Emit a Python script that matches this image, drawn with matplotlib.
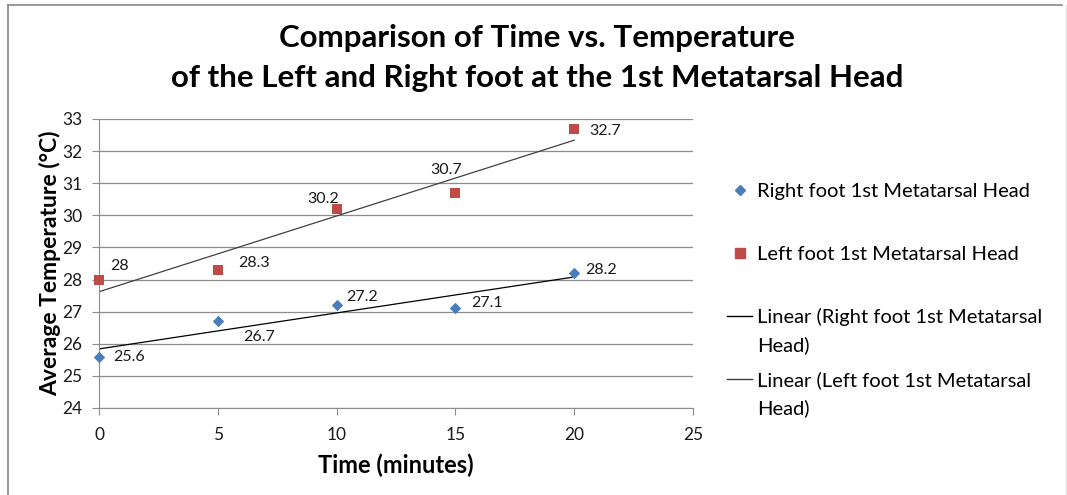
import matplotlib.pyplot as plt
import numpy as np
from matplotlib.lines import Line2D

plt.rcParams['font.family'] = ['Lato', 'DejaVu Sans']

# data
minutes = [0, 5, 10, 15, 20]
right_foot = [25.6, 26.7, 27.2, 27.1, 28.2]
left_foot = [28.0, 28.3, 30.2, 30.7, 32.7]
right_name = 'Right foot 1st Metatarsal Head'
left_name = 'Left foot 1st Metatarsal Head'

# label offsets in points (dx, dy) from each point to the label's left edge
right_offsets = [(10, 0), (18, -11), (7, 6), (11.5, 4), (8, 2)]
left_offsets = [(8, 10), (15, 5), (-21, 7), (-18, 16.5), (11, -2)]

fig = plt.figure(figsize=(10.67, 4.95), dpi=100)
ax = fig.add_axes([0.0928, 0.1758, 0.5567, 0.5838])

blue = '#4a7ebb'
red = '#be4b48'

x = np.array(minutes, dtype=float)
ax.scatter(minutes, right_foot, marker='D', s=34, color=blue, zorder=3, linewidths=0, clip_on=False)
ax.scatter(minutes, left_foot, marker='s', s=58, color=red, zorder=3, linewidths=0, clip_on=False)

# linear trendlines
for ys, c in [(right_foot, 'black'), (left_foot, '#404040')]:
    k, b = np.polyfit(x, ys, 1)
    ax.plot([x.min(), x.max()], [k * x.min() + b, k * x.max() + b], color=c, lw=0.9, zorder=2)

for xs, ys, offs in [(minutes, right_foot, right_offsets), (minutes, left_foot, left_offsets)]:
    for xi, yi, (dx, dy) in zip(xs, ys, offs):
        ax.annotate(f'{yi:g}', (xi, yi), xytext=(dx, dy), textcoords='offset points',
                    fontsize=11.5, va='center', ha='left', color='#1a1a1a')

ax.set_xlim(0, 25)
ax.set_ylim(24, 33)
ax.set_xticks(range(0, 26, 5))
ax.set_yticks(range(24, 34))
ax.grid(axis='y', color='#8c8c8c', lw=0.9)
ax.set_axisbelow(True)
for s in ['top', 'right']:
    ax.spines[s].set_visible(False)
ax.spines['left'].set_color('#8c8c8c')
ax.spines['bottom'].set_color('#8c8c8c')
ax.tick_params(axis='both', colors='#8c8c8c', labelcolor='#1a1a1a', labelsize=12.5, length=5)
ax.tick_params(axis='x', pad=9)
ax.tick_params(axis='y', pad=7)
ax.set_xlabel('Time (minutes)', fontsize=17, fontweight='bold', labelpad=7)
ax.set_ylabel('Average Temperature (°C)', fontsize=16.5, fontweight='bold', labelpad=1)

fig.text(0.503, 0.923, 'Comparison of Time vs. Temperature', ha='center', va='center',
         fontsize=22.5, fontweight='bold')
fig.text(0.503, 0.842, 'of the Left and Right foot at the 1st Metatarsal Head', ha='center',
         va='center', fontsize=22.5, fontweight='bold')

# legend drawn in figure coordinates
def fx(px):
    return px / 1067

def fy(py):
    return 1 - py / 495

leg_font = 14.5
fig.add_artist(Line2D([fx(740)], [fy(190)], marker='D', ls='', color=blue, markersize=5.5))
fig.text(fx(757), fy(191), right_name, fontsize=leg_font, va='center', ha='left')
fig.add_artist(Line2D([fx(740)], [fy(253)], marker='s', ls='', color=red, markersize=7.5))
fig.text(fx(757), fy(254), left_name, fontsize=leg_font, va='center', ha='left')
fig.add_artist(Line2D([fx(727), fx(752)], [fy(316), fy(316)], color='black', lw=1))
fig.text(fx(757), fy(317), 'Linear (Right foot 1st Metatarsal', fontsize=leg_font, va='center', ha='left')
fig.text(fx(757), fy(345), 'Head)', fontsize=leg_font, va='center', ha='left')
fig.add_artist(Line2D([fx(727), fx(752)], [fy(379), fy(379)], color='#404040', lw=1))
fig.text(fx(757), fy(380), 'Linear (Left foot 1st Metatarsal', fontsize=leg_font, va='center', ha='left')
fig.text(fx(757), fy(408), 'Head)', fontsize=leg_font, va='center', ha='left')

# chart border
fig.add_artist(Line2D([0.0075, 0.0075], [0, 0.99], transform=fig.transFigure, color='#888888', lw=1.2))
fig.add_artist(Line2D([0.0075, 0.995], [0.99, 0.99], transform=fig.transFigure, color='#888888', lw=1.2))
fig.add_artist(Line2D([0.999, 0.999], [0, 0.99], transform=fig.transFigure, color='#dddddd', lw=1))

fig.savefig('out.png', dpi=100)
